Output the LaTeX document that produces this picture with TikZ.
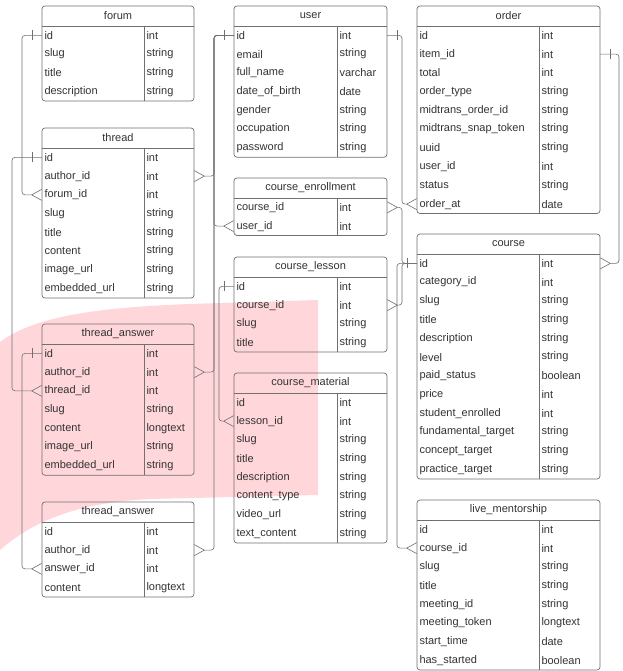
\documentclass[tikz,border=0pt]{standalone}
\usepackage{fontspec}
\setmainfont{Liberation Sans}
\usepackage{tikz}
\usetikzlibrary{arrows.meta,decorations.markings,calc}

\definecolor{erline}{HTML}{707070}
\definecolor{ertext}{HTML}{333333}
\definecolor{erpink}{HTML}{FFD6DA}

\newcommand{\ertable}[7]{%
  \node[table head,minimum width=#4pt] (#1) at (#2,#3) {#6};
  \foreach \fname/\ftype [count=\i] in {#7} {
    \node[field] (#1-\i) at (#2,{#3+20+(\i-0.5)*18.75}) {\fname};
    \node[field] (#1-\i-t) at ({#2+#5},{#3+20+(\i-0.5)*18.75}) {\ftype};
    \xdef\nrows{\i}
  }
  \draw[table line,rounded corners=3pt] (#1.north west) rectangle (#1.east |- #1-\nrows.south);
  \draw[table line] (#1.south west) -- (#1.south east);
  \draw[table line] (#1-1-t.west |- #1.south) -- (#1-\nrows-t.south west);
}

\begin{document}
\begin{tikzpicture}[x=1pt,y=-1pt,
    every node/.append style={text=ertext,font=\fontsize{11}{13}\selectfont},
    table head/.style={anchor=north west,minimum height=20pt,inner sep=0pt,outer sep=0pt},
    field/.style={anchor=west,minimum height=18.75pt,inner xsep=2.5pt,inner ysep=0pt,outer sep=0pt},
    table line/.style={draw=erline,line width=0.7pt},
    rel/.style={draw=erline,line width=0.6pt,rounded corners=3pt},
    one end/.style={postaction={decorate,decoration={markings,
        mark=at position 10pt with {\draw[-,erline,line width=0.6pt] (0,-5pt) -- (0,5pt);}}}},
    many end/.style={-{Straight Barb[reversed,length=10pt,width=11pt]}}]
  \fill[white] (0,0) rectangle (622,671);
  \useasboundingbox (0,0) rectangle (622,671);
  \fill[erpink] (0,342) .. controls (30,320) and (80,308) .. (190,304) -- (318,300)
    -- (318,495) -- (150,499) .. controls (90,502) and (40,515) .. (0,550) -- cycle;

  \ertable{forum}{42}{6}{152}{102}{forum}{id/int,slug/string,title/string,description/string}
  \ertable{thread}{42}{128}{152}{102}{thread}{id/int,author\_id/int,forum\_id/int,slug/string,
    title/string,content/string,image\_url/string,embedded\_url/string}
  \ertable{tanswer}{42}{324}{152}{102}{thread\_answer}{id/int,author\_id/int,thread\_id/int,
    slug/string,content/longtext,image\_url/string,embedded\_url/string}
  \ertable{treply}{42}{502}{152}{102}{thread\_answer}{id/int,author\_id/int,answer\_id/int,content/longtext}
  \ertable{user}{234}{6}{153}{103}{user}{id/int,email/string,full\_name/varchar,date\_of\_birth/date,
    gender/string,occupation/string,password/string}
  \ertable{enroll}{234}{178}{153}{103}{course\_enrollment}{course\_id/int,user\_id/int}
  \ertable{lesson}{234}{257}{153}{103}{course\_lesson}{id/int,course\_id/int,slug/string,title/string}
  \ertable{material}{234}{373}{153}{103}{course\_material}{id/int,lesson\_id/int,slug/string,title/string,
    description/string,content\_type/string,video\_url/string,text\_content/string}
  \ertable{order}{417}{6}{183}{122}{order}{id/int,item\_id/int,total/int,order\_type/string,
    midtrans\_order\_id/string,midtrans\_snap\_token/string,uuid/string,user\_id/int,status/string,order\_at/date}
  \ertable{course}{417}{234}{183}{122}{course}{id/int,category\_id/int,slug/string,title/string,
    description/string,level/string,paid\_status/boolean,price/int,student\_enrolled/int,
    fundamental\_target/string,concept\_target/string,practice\_target/string}
  \ertable{mentor}{417}{500}{183}{122}{live\_mentorship}{id/int,course\_id/int,slug/string,title/string,
    meeting\_id/string,meeting\_token/longtext,start\_time/date,has\_started/boolean}

  \draw[rel,one end,many end] (forum-1.west) -- ++(-20,0) |- (thread-3.west);
  \draw[rel,one end,many end] (thread-1.west) -- ++(-30,0) |- (tanswer-3.west);
  \draw[rel,one end,many end] (tanswer-1.west) -- ++(-20,0) |- (treply-3.west);
  \draw[rel,one end,many end] (user-1.west) -- ++(-20,0) |- (thread-2 -| thread.east);
  \draw[rel,one end,many end] (user-1.west) -- ++(-20,0) |- (enroll-2.west);
  \draw[rel,one end,many end] (user-1.west) -- ++(-20,0) |- (tanswer-2 -| tanswer.east);
  \draw[rel,one end,many end] (user-1.west) -- ++(-20,0) |- (treply-2 -| treply.east);
  \draw[rel,one end,many end] (lesson-1.west) -- ++(-15,0) |- (material-2.west);
  \draw[rel,one end,many end] (user-1 -| user.east) -- ++(15,0) |- (order-10.west);
  \draw[rel,one end,many end] (order-2 -| order.east) -- ++(19,0) |- (course-1 -| course.east);
  \draw[rel,one end,many end] (course-1.west) -- ++(-15,0) |- (enroll-1 -| enroll.east);
  \draw[rel,one end,many end] (course-1.west) -- ++(-15,0) |- (lesson-2 -| lesson.east);
  \draw[rel,one end,many end] (course-1.west) -- ++(-20,0) |- (mentor-2.west);
\end{tikzpicture}
\end{document}
